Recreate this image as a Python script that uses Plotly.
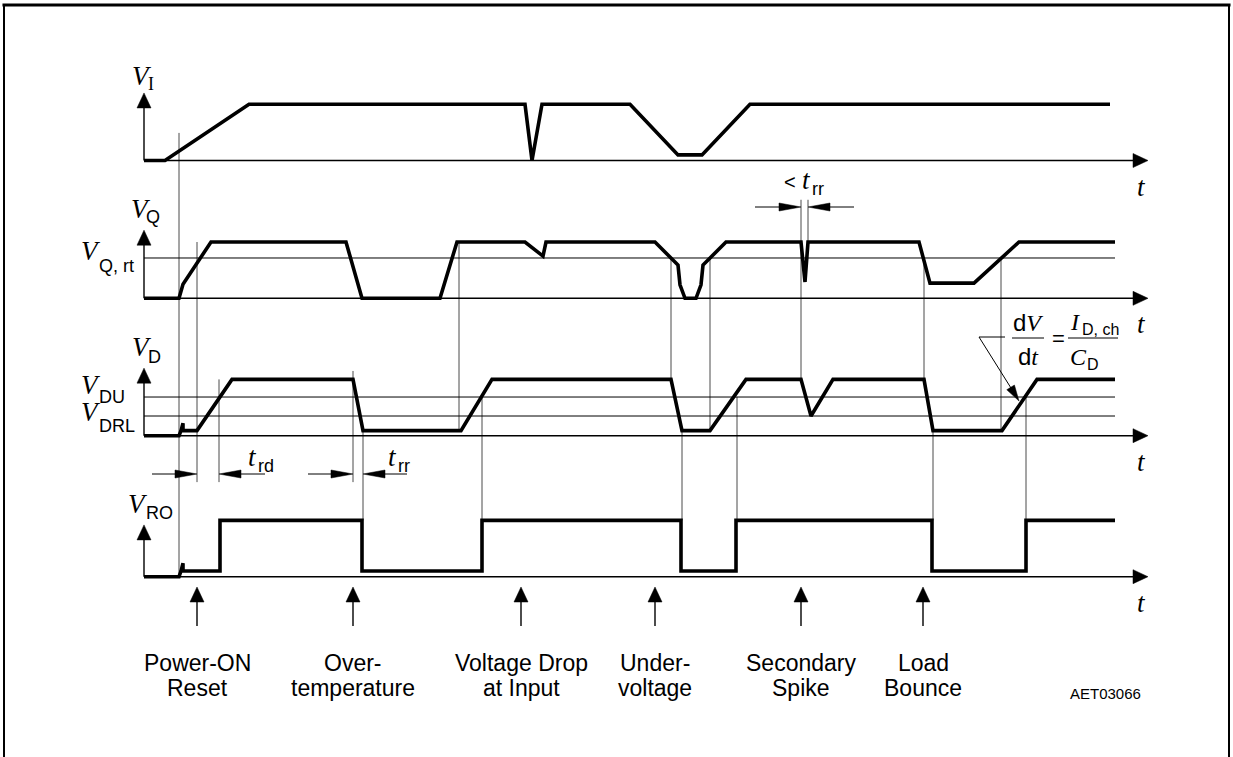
import plotly.graph_objects as go

# ---------------- waveform data (time units, level: 0 = baseline, 1 = high) ----------------
vi_t = [144, 165, 249, 525, 532, 542, 630, 678, 702, 750, 1110]
vi_lv = [0, 0, 1, 1, 0, 1, 1, 0.1, 0.1, 1, 1]

vq_t = [144, 179, 183, 211, 346, 362, 440, 457, 525, 543, 546, 655, 678, 680, 685, 696,
        701, 703, 726, 801, 805, 808, 919, 930, 974, 1019, 1115]
vq_lv = [0, 0, 0.25, 1, 1, 0, 0, 1, 1, 0.75, 1, 1, 0.59, 0.24, 0, 0,
         0.24, 0.59, 1, 1, 0.29, 1, 1, 0.27, 0.27, 1, 1]

vd_t = [144, 179, 181, 183, 183, 197, 232, 353, 363, 461, 492, 671, 682, 710, 746, 801,
        811, 833, 924, 933, 1002, 1037, 1115]
vd_lv = [0, 0, 0.09, 0.22, 0.09, 0.09, 1, 1, 0.09, 0.09, 1, 1, 0.09, 0.09, 1, 1,
         0.35, 1, 1, 0.09, 0.09, 1, 1]

vro_t = [144, 179, 181, 183, 183, 220, 220, 362, 362, 482, 482, 681, 681, 736, 736, 932,
         932, 1026, 1026, 1115]
vro_lv = [0, 0, 0.1, 0.24, 0.1, 0.1, 1, 1, 0.1, 0.1, 1, 1, 0.1, 0.1, 1, 1,
          0.1, 0.1, 1, 1]

# threshold levels
vq_rt = 0.716
vd_du = 0.687
vd_drl = 0.35

# events marked below the diagram
event_t = [197, 353, 521, 655, 801, 923]
event_lines = [("Power-ON", "Reset"), ("Over-", "temperature"), ("Voltage Drop", "at Input"),
               ("Under-", "voltage"), ("Secondary", "Spike"), ("Load", "Bounce")]

# timing reference lines: (time, row, level from, row, level to)
guides = [
    (179, "VI", 0.49, "VRO", 0.0),
    (197, "VQ", 1.0, "VRO", 1.68),
    (219, "VD", 1.0, "VRO", 1.68),
    (353, "VD", 1.15, "VRO", 1.68),
    (363, "VD", 0.09, "VRO", 1.0),
    (459, "VQ", 1.0, "VD", 0.09),
    (482, "VD", vd_du, "VRO", 1.0),
    (671, "VQ", vq_rt, "VD", 1.0),
    (682, "VD", 0.09, "VRO", 1.0),
    (710, "VQ", vq_rt, "VD", 0.09),
    (737, "VD", vd_du, "VRO", 1.0),
    (801, "VQ", 1.75, "VD", 1.0),
    (808, "VQ", 1.75, "VQ", 1.0),
    (924, "VQ", vq_rt, "VD", 1.0),
    (933, "VD", 0.09, "VRO", 1.0),
    (1001, "VQ", vq_rt, "VD", 0.09),
    (1026, "VD", vd_du, "VRO", 1.0),
]

# ---------------- layout geometry ----------------
W, H = 1233, 757
PX = 56.3                       # screen pixels per level unit
BASE_PX = dict(VI=160.5, VQ=298.3, VD=435.7, VRO=576.7)
OFF = {k: (BASE_PX["VRO"] - v) / PX for k, v in BASE_PX.items()}
AXIS_X = 144
T_END = 1135
TIP_LV = dict(VI=1.2, VQ=1.21, VD=1.2, VRO=0.92)

SANS = "Liberation Sans, Arial, sans-serif"
SERIF = "Liberation Serif, Times New Roman, serif"


def Y(row, lv):
    return OFF[row] + lv


def sy(px):
    """screen row (pixels from top) -> y units"""
    return (BASE_PX["VRO"] - px) / PX


def head(xt, yt, dx, dy, L, Wd):
    """filled arrow head, tip at (xt, yt) in data units, direction (dx, dy) in screen px"""
    n = (dx * dx + dy * dy) ** 0.5
    ux, uy = dx / n, dy / n
    bx, by = -ux * L, -uy * L
    px_, py_ = -uy * Wd / 2, ux * Wd / 2
    pts = [(0, 0), (bx + px_, by + py_), (bx - px_, by - py_)]
    coords = [(xt + a, yt - b / PX) for a, b in pts]
    path = "M {},{} L {},{} L {},{} Z".format(*[v for c in coords for v in c])
    return dict(type="path", path=path, xref="x", yref="y",
                fillcolor="black", line=dict(color="black", width=0.5), layer="above")


fig = go.Figure()
shapes = []
annotations = []


def line(x, y, width=1.0, color="black"):
    fig.add_trace(go.Scatter(x=x, y=y, mode="lines", hoverinfo="skip",
                             line=dict(color=color, width=width), showlegend=False))


# guide lines
for t, r0, l0, r1, l1 in guides:
    line([t, t], [Y(r0, l0), Y(r1, l1)], width=1, color="#4a4a4a")

# threshold lines
line([AXIS_X, 1115], [Y("VQ", vq_rt)] * 2, width=1)
line([AXIS_X, 1115], [Y("VD", vd_du)] * 2, width=1)
line([AXIS_X, 1115], [Y("VD", vd_drl)] * 2, width=1)

# axes of every row
for row in ["VI", "VQ", "VD", "VRO"]:
    line([AXIS_X, T_END], [Y(row, 0)] * 2, width=1.4)
    shapes.append(head(1148, Y(row, 0), 1, 0, 15, 14))
    tip = Y(row, TIP_LV[row])
    line([AXIS_X, AXIS_X], [Y(row, 0), tip - 10 / PX], width=1.4)
    shapes.append(head(AXIS_X, tip, 0, -1, 15, 14))
    annotations.append(dict(x=1141, y=sy(BASE_PX[row] + 26), text="<i>t</i>",
                            font=dict(family=SERIF, size=27)))

# waveforms
for t, lv, row in [(vi_t, vi_lv, "VI"), (vq_t, vq_lv, "VQ"), (vd_t, vd_lv, "VD"), (vro_t, vro_lv, "VRO")]:
    line(t, [Y(row, v) for v in lv], width=3.6)

# event arrows and labels
for t, (l1, l2) in zip(event_t, event_lines):
    line([t, t], [sy(626), sy(598)], width=1.4)
    shapes.append(head(t, sy(587), 0, -1, 15, 14))
    annotations.append(dict(x=t, y=sy(663), text=l1, font=dict(family=SANS, size=23)))
    annotations.append(dict(x=t, y=sy(688), text=l2, font=dict(family=SANS, size=23)))

annotations.append(dict(x=1105, y=sy(693), text="AET03066", font=dict(family=SANS, size=15)))


# dimension arrows (t_rd, t_rr)
def dim_pair(y, x_left_from, x_left_tip, x_right_from, x_right_tip):
    line([x_left_from, x_left_tip - 5], [y, y], width=1)
    shapes.append(head(x_left_tip, y, 1, 0, 22, 8))
    line([x_right_from, x_right_tip + 5], [y, y], width=1)
    shapes.append(head(x_right_tip, y, -1, 0, 22, 8))


dim_pair(sy(474), 152, 197, 265, 219)
dim_pair(sy(474), 308, 353, 407, 363)
dim_pair(sy(207), 755, 801, 854, 808)


def vlabel(xv, yv, sub, xs, ys, sub_family=SANS, sub_size=18, vsize=27, main="V"):
    annotations.append(dict(x=xv, y=sy(yv), text="<i>%s</i>" % main,
                            font=dict(family=SERIF, size=vsize)))
    annotations.append(dict(x=xs, y=sy(ys), text=sub, xanchor="left",
                            font=dict(family=sub_family, size=sub_size)))


vlabel(142, 76, "I", 146, 84, sub_family=SERIF)
vlabel(141, 209, "Q", 144, 217)
vlabel(91, 251, "Q, rt", 97, 266)
vlabel(142, 347, "D", 146, 357)
vlabel(91, 385, "DU", 97, 397)
vlabel(91, 412, "DRL", 97, 426)
vlabel(138, 504, "RO", 144, 513)
vlabel(252, 457, "rd", 256, 466, main="t")
vlabel(392, 457, "rr", 396, 466, main="t")
vlabel(806, 180, "rr", 810, 189, main="t")
annotations.append(dict(x=790, y=sy(182), text="&lt;", font=dict(family=SANS, size=20)))

# dV/dt = I_D,ch / C_D
annotations.append(dict(x=1028, y=sy(322),
                        text='d<i><span style="font-family:Liberation Serif">V</span></i>',
                        font=dict(family=SANS, size=24)))
annotations.append(dict(x=1028, y=sy(356),
                        text='d<i><span style="font-family:Liberation Serif">t</span></i>',
                        font=dict(family=SANS, size=24)))
line([1012, 1044], [sy(338), sy(338)], width=1)
annotations.append(dict(x=1058, y=sy(338), text="=", font=dict(family=SANS, size=22)))
vlabel(1075, 322, "D, ch", 1080, 329, sub_size=16, vsize=24, main="I")
line([1068, 1118], [sy(338), sy(338)], width=1)
vlabel(1078, 357, "D", 1085, 364, sub_size=16, vsize=24, main="C")
line([1005, 979, 1016], [sy(337), sy(337), sy(396)], width=1)
shapes.append(head(1019, sy(401), 37, 60, 16, 9))

# page frame
shapes.append(dict(type="line", xref="paper", yref="paper", x0=0.002, x1=0.998, y0=1 - 5 / H, y1=1 - 5 / H,
                   line=dict(color="black", width=3)))
shapes.append(dict(type="line", xref="paper", yref="paper", x0=4 / W, x1=4 / W, y0=0, y1=1 - 5 / H,
                   line=dict(color="black", width=2)))
shapes.append(dict(type="line", xref="paper", yref="paper", x0=1229 / W, x1=1229 / W, y0=0, y1=1 - 5 / H,
                   line=dict(color="black", width=2)))

for a in annotations:
    a.setdefault("xanchor", "center")
    a.setdefault("yanchor", "middle")
    a["showarrow"] = False
    a["xref"] = "x"
    a["yref"] = "y"
    a["font"].setdefault("color", "black")

fig.update_layout(
    width=W, height=H,
    margin=dict(l=0, r=0, t=0, b=0),
    paper_bgcolor="white", plot_bgcolor="white",
    xaxis=dict(range=[0, W], visible=False, fixedrange=True),
    yaxis=dict(range=[-(H - BASE_PX["VRO"]) / PX, BASE_PX["VRO"] / PX], visible=False, fixedrange=True),
    shapes=shapes,
    annotations=annotations,
    showlegend=False,
)

fig.write_html("out.html", config={"displayModeBar": False})
